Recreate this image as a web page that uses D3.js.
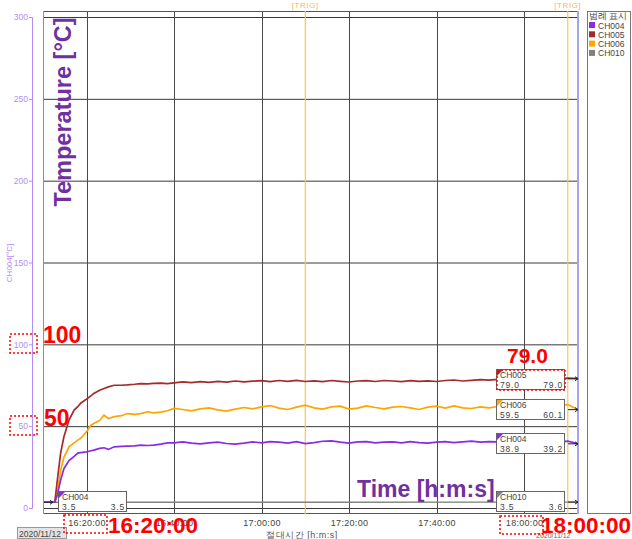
<!DOCTYPE html>
<html>
<head>
<meta charset="utf-8">
<script src="https://cdn.jsdelivr.net/npm/d3@7"></script>
<style>
  body { margin: 0; background: #fff; }
  svg text { font-family: "Liberation Sans", Arial, sans-serif; }
</style>
</head>
<body>
<svg id="chart" width="632" height="539"></svg>
<script>
// ---- data ----
var times = ["16:10:17","16:12:45","16:13:20","16:14:05","16:14:50","16:16:00","16:17:10","16:18:00","16:18:40","16:20:00",
  "16:21:00","16:21:40","16:23:00","16:24:00","16:25:00","16:26:20","16:28:00","16:29:20","16:31:00","16:32:20",
  "16:34:00","16:35:20","16:37:00","16:38:30","16:40:00","16:42:00","16:44:00","16:46:00","16:48:00","16:50:00",
  "16:52:00","16:54:00","16:56:00","16:58:00","17:00:00","17:02:00","17:04:00","17:06:00","17:08:00","17:10:00",
  "17:12:00","17:14:00","17:16:00","17:18:00","17:20:00","17:22:00","17:24:00","17:26:00","17:28:00","17:30:00",
  "17:32:00","17:34:00","17:36:00","17:38:00","17:40:00","17:42:00","17:44:00","17:46:00","17:48:00","17:50:00",
  "17:52:00","17:54:00","17:56:00","17:58:00","18:00:00","18:02:00","18:04:00","18:06:00","18:08:00","18:10:00","18:12:20"];
var ch004 = [3.5,3.5,8,17,24,29,31.5,33.5,33.8,34.3,
  35,35.4,36.4,36.8,35.8,37.4,37.6,37.8,38.0,38.4,
  38.2,38.4,39.0,39.8,39.8,40.4,39.6,39.2,39.8,40.2,
  39.4,39.0,39.6,40.4,39.8,40.6,40.2,39.6,40.6,39.4,
  40.0,40.8,41.0,40.2,39.6,40.4,40.6,39.8,40.2,40.4,
  39.8,40.6,40.0,39.6,40.2,40.6,40.0,40.4,40.8,40.2,
  40.6,40.4,40.0,40.6,39.8,40.2,39.6,40.0,40.4,40.8,39.2];
var ch005 = [3.5,3.5,17,33.5,43.5,53.7,59.8,61.9,64,66.5,
  68.5,70,72,73,74,75,75,75.2,75.6,76,
  75.8,76.1,76.3,76.0,76.4,77.0,76.6,77.2,76.8,77.4,
  76.9,77.6,77.1,77.5,77.8,77.2,77.9,77.4,78.0,77.3,
  77.7,77.2,77.9,77.4,77.0,77.6,77.8,77.3,77.9,77.6,
  77.2,77.8,77.4,77.7,77.3,77.9,78.2,77.6,78.0,78.4,
  78.1,78.6,78.4,78.8,79.0,78.6,79.2,78.8,79.0,79.3,79.0];
var ch006 = [3.5,3.5,9,23,31,37.4,39.8,41.5,42.6,46.6,
  50.6,51.6,53.5,56.7,54.7,55.8,56.4,57.7,57.2,57.7,
  58.8,58.1,58.6,59.4,60.8,60.2,59.4,60.6,61.2,60.0,
  59.2,60.4,61.4,60.6,61.8,62.6,61.0,60.2,61.6,62.8,
  61.2,60.4,61.8,62.2,60.4,61.0,62.4,61.4,60.6,61.6,
  62.0,61.2,60.2,61.6,62.2,61.0,62.4,61.2,60.8,61.8,
  61.2,62.0,61.4,60.6,61.2,60.4,61.0,60.2,62.6,63.2,60.1];
var ch010Times = ["16:10:17","17:10:00","18:12:20"];
var ch010 = [3.5,3.5,3.6];

var yTicks = [0,50,100,150,200,250,300];
var xTicks = ["16:20:00","16:40:00","17:00:00","17:20:00","17:40:00","18:00:00"];
var trigTimes = ["17:10:00","18:10:00"];
var legendNames = ["CH004","CH005","CH006","CH010"];
var legendColors = ["#8a2be2","#a52a2a","#ffa500","#808080"];

var parse = d3.timeParse("%H:%M:%S");
var svg = d3.select("#chart");

var x = d3.scaleTime().domain([parse("16:10:17"), parse("18:12:20")]).range([44, 578]);
var y = d3.scaleLinear().domain([0, 300]).range([508, 17]);

// plot background + frame
svg.append("rect").attr("x", 44).attr("y", 11).attr("width", 534).attr("height", 503).attr("fill", "#fff");

// grid
svg.append("g").selectAll("line").data(yTicks).enter().append("line")
  .attr("x1", 44).attr("x2", 578)
  .attr("y1", d => y(d) + 0.5).attr("y2", d => y(d) + 0.5)
  .attr("stroke", "#3a3a3a").attr("stroke-width", 1);
svg.append("g").selectAll("line").data(xTicks).enter().append("line")
  .attr("x1", d => Math.round(x(parse(d))) + 0.5).attr("x2", d => Math.round(x(parse(d))) + 0.5)
  .attr("y1", 11).attr("y2", 514)
  .attr("stroke", "#4a4a4a").attr("stroke-width", 1);
// top and bottom frame lines
svg.append("line").attr("x1", 44).attr("x2", 578).attr("y1", 11.5).attr("y2", 11.5).attr("stroke", "#555");
svg.append("line").attr("x1", 44).attr("x2", 578).attr("y1", 513.5).attr("y2", 513.5).attr("stroke", "#555");

// trigger lines
svg.append("g").selectAll("line").data(trigTimes).enter().append("line")
  .attr("x1", d => x(parse(d))).attr("x2", d => x(parse(d)))
  .attr("y1", 11).attr("y2", 514)
  .attr("stroke", "#ffc44d").attr("stroke-width", 1.2);
svg.append("g").selectAll("text").data(trigTimes).enter().append("text")
  .attr("x", d => x(parse(d))).attr("y", 8)
  .attr("text-anchor", "middle").attr("font-size", 8).attr("fill", "#f5b860")
  .attr("letter-spacing", 0.6)
  .text("[TRIG]");

// side edges
svg.append("line").attr("x1", 43.5).attr("x2", 43.5).attr("y1", 11).attr("y2", 514).attr("stroke", "#8c86e0");
svg.append("line").attr("x1", 578).attr("x2", 578).attr("y1", 11).attr("y2", 514).attr("stroke", "#a7a3e6").attr("stroke-width", 2);

// series
var line = d3.line().x(d => x(d[0])).y(d => y(d[1]));
function series(ts, vs) { return ts.map((t, i) => [parse(t), vs[i]]); }

svg.append("path").datum(series(ch010Times, ch010)).attr("d", line)
  .attr("fill", "none").attr("stroke", "#808080").attr("stroke-width", 1.3);
svg.append("path").datum(series(times, ch006)).attr("d", line)
  .attr("fill", "none").attr("stroke", "#ffa500").attr("stroke-width", 1.7);
svg.append("path").datum(series(times, ch005)).attr("d", line)
  .attr("fill", "none").attr("stroke", "#a52a2a").attr("stroke-width", 1.7);
svg.append("path").datum(series(times, ch004)).attr("d", line)
  .attr("fill", "none").attr("stroke", "#8a2be2").attr("stroke-width", 1.7);

// end markers
var ends = [ch004[ch004.length - 1], ch005[ch005.length - 1], ch006[ch006.length - 1], ch010[ch010.length - 1]];
svg.append("g").selectAll("path").data(ends).enter().append("path")
  .attr("d", d => "M" + (578 - 10) + "," + y(d) + "h10 M575," + (y(d) - 2) + "l3,2l-3,2")
  .attr("stroke", "#222").attr("fill", "none").attr("stroke-width", 1);
svg.append("path")
  .attr("d", "M44," + y(3.5) + "h9 M50," + (y(3.5) - 2) + "l3,2l-3,2")
  .attr("stroke", "#222").attr("fill", "none");

// y axis
var yAxis = svg.append("g").attr("transform", "translate(32,0)")
  .call(d3.axisLeft(y).tickValues(yTicks).tickSize(3).tickPadding(1));
yAxis.select(".domain").attr("stroke", "#b48cf5");
yAxis.selectAll(".tick line").attr("stroke", "#b48cf5");
yAxis.selectAll("text").attr("fill", "#b48cf5").attr("font-size", 8.5)
  .attr("font-family", "Liberation Sans, Arial, sans-serif");
svg.append("text").attr("transform", "translate(12,263) rotate(-90)")
  .attr("text-anchor", "middle").attr("font-size", 8).attr("fill", "#b48cf5")
  .text("CH004[°C]");

// x axis
var xAxis = svg.append("g").attr("transform", "translate(0,514)")
  .call(d3.axisBottom(x).tickValues(xTicks.map(parse)).tickSize(0).tickPadding(6)
    .tickFormat(d3.timeFormat("%H:%M:%S")));
xAxis.select(".domain").remove();
xAxis.selectAll("text").attr("fill", "#444").attr("font-size", 9).attr("letter-spacing", 0.3)
  .attr("font-family", "Liberation Sans, Arial, sans-serif");

svg.append("text").attr("x", 302).attr("y", 538).attr("text-anchor", "middle")
  .attr("font-size", 9).attr("fill", "#555").attr("letter-spacing", 0.5)
  .attr("font-family", "Noto Sans CJK KR, sans-serif").text("절대시간 [h:m:s]");
svg.append("text").attr("x", 536).attr("y", 538).attr("font-size", 7).attr("fill", "#666").text("2020/11/12");
svg.append("rect").attr("x", 17.5).attr("y", 527.5).attr("width", 49).attr("height", 11)
  .attr("fill", "#e4e4e4").attr("stroke", "#999");
svg.append("text").attr("x", 19).attr("y", 537).attr("font-size", 8.5).attr("fill", "#444").text("2020/11/12");

// info boxes
function infoBox(bx, by, name, color, v1, v2) {
  var g = svg.append("g").attr("transform", "translate(" + bx + "," + by + ")");
  g.append("rect").attr("x", 0.5).attr("y", 0.5).attr("width", 68).attr("height", 20)
    .attr("fill", "#fff").attr("stroke", "#666");
  g.append("path").attr("d", "M1,1h6l-6,6z").attr("fill", color);
  g.append("text").attr("x", 4).attr("y", 9).attr("font-size", 8.5).attr("fill", "#444").text(name);
  g.append("text").attr("x", 4).attr("y", 19).attr("font-size", 8.5).attr("fill", "#444")
    .attr("letter-spacing", 0.8).text(v1);
  g.append("text").attr("x", 67).attr("y", 19).attr("text-anchor", "end").attr("font-size", 8.5)
    .attr("fill", "#444").attr("letter-spacing", 0.8).text(v2);
}
infoBox(58, 491, "CH004", "#8a2be2", "3.5", "3.5");
infoBox(496, 369, "CH005", "#a52a2a", "79.0", "79.0");
infoBox(496, 399, "CH006", "#ffa500", "59.5", "60.1");
infoBox(496, 433, "CH004", "#8a2be2", "38.9", "39.2");
infoBox(496, 491, "CH010", "#808080", "3.5", "3.6");

// legend
svg.append("rect").attr("x", 587.5).attr("y", 11.5).attr("width", 43).attr("height", 502)
  .attr("fill", "#fff").attr("stroke", "#777");
svg.append("text").attr("x", 589).attr("y", 19).attr("font-size", 8.5).attr("fill", "#444")
  .attr("font-family", "Noto Sans CJK KR, sans-serif").text("범례 표시");
var leg = svg.append("g").selectAll("g").data(legendNames).enter().append("g")
  .attr("transform", (d, i) => "translate(589," + (22 + i * 9.3) + ")");
leg.append("rect").attr("width", 6).attr("height", 6).attr("fill", (d, i) => legendColors[i]);
leg.append("text").attr("x", 9).attr("y", 6.5).attr("font-size", 8.5).attr("fill", "#444").text(d => d);

// annotations
var red = "#ff0000";
function dotted(rx, ry, rw, rh) {
  svg.append("rect").attr("x", rx).attr("y", ry).attr("width", rw).attr("height", rh)
    .attr("fill", "none").attr("stroke", red).attr("stroke-width", 1.5).attr("stroke-dasharray", "2,2");
}
dotted(10, 334, 27, 19);
dotted(10, 416, 27, 19);
dotted(64, 515, 43, 18);
dotted(500, 516, 43, 18);
dotted(497, 370, 68, 20);

function bigRed(tx, ty, s, size) {
  svg.append("text").attr("x", tx).attr("y", ty).attr("font-size", size).attr("font-weight", "bold")
    .attr("fill", red).text(s);
}
bigRed(43, 343, "100", 23);
bigRed(44, 426, "50", 23);
bigRed(507, 363, "79.0", 21);
bigRed(108, 533, "16:20:00", 22.5);
bigRed(541, 533, "18:00:00", 22.5);

svg.append("text").attr("x", 357).attr("y", 497).attr("font-size", 23).attr("font-weight", "bold")
  .attr("font-family", "Open Sans, sans-serif").attr("fill", "#7030a0").text("Time [h:m:s]");
svg.append("text").attr("transform", "translate(71,112) rotate(-90)").attr("text-anchor", "middle")
  .attr("font-size", 23.5).attr("font-weight", "bold")
  .attr("font-family", "Open Sans, sans-serif").attr("fill", "#7030a0").text("Temperature [°C]");
</script>
</body>
</html>
